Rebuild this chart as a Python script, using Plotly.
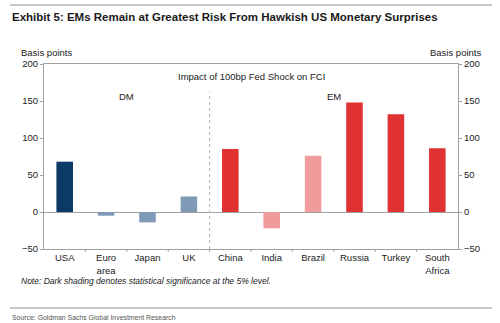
import plotly.graph_objects as go

# Impact of a 100bp Fed shock on financial conditions (basis points)
countries = ["USA", "Euro<br>area", "Japan", "UK", "China", "India",
             "Brazil", "Russia", "Turkey", "South<br>Africa"]
impact_bp = [68, -5, -14, 21, 85, -22, 76, 148, 132, 86]
bar_colors = ["#0b3a66", "#7f9ab6", "#7f9ab6", "#7f9ab6", "#e03232",
              "#f09c9c", "#f09c9c", "#e03232", "#e03232", "#e03232"]
y_ticks = [-50, 0, 50, 100, 150, 200]

W, H = 500, 323
L, R, T, B = 44, 42, 64, 74
PW, PH = W - L - R, H - T - B


def px(x):
    return (x - L) / PW


def py(y):
    return (H - B - y) / PH


FONT = "Liberation Sans, Arial, sans-serif"
NARROW = "Liberation Sans Narrow, Arial Narrow, sans-serif"
TXT = "#222222"
AX = "#a0a0a0"

fig = go.Figure()
fig.add_trace(go.Bar(
    x=list(range(len(countries))), y=impact_bp,
    marker=dict(color=bar_colors, line=dict(width=0)),
    width=0.4, showlegend=False, hoverinfo="skip",
))

fig.update_layout(
    width=W, height=H,
    margin=dict(l=L, r=R, t=T, b=B, pad=0),
    paper_bgcolor="white", plot_bgcolor="white",
    font=dict(family=FONT, size=9.5, color=TXT),
    xaxis=dict(
        tickmode="array", tickvals=list(range(len(countries))),
        ticktext=countries, range=[-0.5, len(countries) - 0.5],
        showgrid=False, zeroline=False, showline=True, linecolor=AX,
        linewidth=1, mirror=True, ticks="", tickfont=dict(size=9.5, color=TXT),
    ),
    yaxis=dict(
        range=[-50, 200], tickvals=y_ticks, showgrid=False,
        zeroline=True, zerolinecolor=AX, zerolinewidth=1,
        showline=True, linecolor=AX, linewidth=1,
        ticks="outside", ticklen=3, tickcolor=AX,
        tickfont=dict(size=9.5, color=TXT),
    ),
    yaxis2=dict(
        range=[-50, 200], tickvals=y_ticks, overlaying="y", side="right",
        showgrid=False, zeroline=False, showline=True, linecolor=AX,
        linewidth=1, ticks="outside", ticklen=3, tickcolor=AX,
        tickfont=dict(size=9.5, color=TXT),
    ),
    bargap=0.6,
)

# category boundary tick marks along the bottom axis
for i in range(1, len(countries)):
    fig.add_shape(type="line", xref="x", yref="paper", x0=i - 0.5, x1=i - 0.5,
                  y0=0, y1=-0.016, line=dict(color=AX, width=1))

# DM / EM separator
fig.add_shape(type="line", xref="x", yref="y", x0=3.5, x1=3.5, y0=-50, y1=162,
              line=dict(color="#b0b0b0", width=1, dash="dot"))

# invisible anchor so the right-hand axis is drawn
fig.add_trace(go.Scatter(x=[0], y=[0], yaxis="y2", mode="markers",
                         marker=dict(opacity=0), showlegend=False,
                         hoverinfo="skip"))

ann = [
    dict(x=4.5, y=183, xref="x", yref="y", text="Impact of 100bp Fed Shock on FCI",
         xanchor="center", yanchor="middle"),
    dict(x=1.5, y=156, xref="x", yref="y", text="DM",
         xanchor="center", yanchor="middle"),
    dict(x=6.5, y=156, xref="x", yref="y", text="EM",
         xanchor="center", yanchor="middle"),
    dict(x=px(19), y=py(53), xref="paper", yref="paper", text="Basis points",
         xanchor="left", yanchor="middle"),
    dict(x=px(483), y=py(53), xref="paper", yref="paper", text="Basis points",
         xanchor="right", yanchor="middle"),
    dict(x=px(19), y=py(281), xref="paper", yref="paper",
         text="<i>Note: Dark shading denotes statistical significance at the 5% level.</i>",
         xanchor="left", yanchor="middle", font=dict(size=8.5)),
    dict(x=px(10), y=py(17), xref="paper", yref="paper",
         text="<b>Exhibit 5: EMs Remain at Greatest Risk From Hawkish US Monetary Surprises</b>",
         xanchor="left", yanchor="middle",
         font=dict(family=NARROW, size=11.5, color="#1a1a1a")),
    dict(x=px(10), y=py(317), xref="paper", yref="paper",
         text="Source: Goldman Sachs Global Investment Research",
         xanchor="left", yanchor="middle",
         font=dict(family=NARROW, size=6.9, color="#555555")),
]
for a in ann:
    a.setdefault("showarrow", False)
    fig.add_annotation(**a)

# rules above the title and below the note
for yy in (5, 308):
    fig.add_shape(type="line", xref="paper", yref="paper",
                  x0=px(10), x1=px(492), y0=py(yy), y1=py(yy),
                  line=dict(color="#b5b5b5", width=1.5))

fig.write_html("out.html")
